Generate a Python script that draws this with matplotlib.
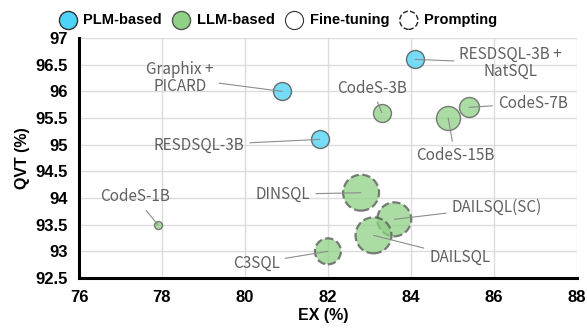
import matplotlib
matplotlib.use("Agg")
from matplotlib import pyplot as plt

# data
names = ["Graphix +\nPICARD", "RESDSQL-3B +\nNatSQL", "RESDSQL-3B", "CodeS-1B", "CodeS-3B",
         "CodeS-7B", "CodeS-15B", "DINSQL", "DAILSQL(SC)", "DAILSQL", "C3SQL"]
ex = [80.9, 84.1, 81.8, 77.9, 83.3, 85.4, 84.9, 82.8, 83.6, 83.1, 82.0]
qvt = [96.0, 96.6, 95.1, 93.5, 95.6, 95.7, 95.5, 94.1, 93.6, 93.3, 93.0]
kind = ["PLM", "PLM", "PLM", "LLM", "LLM", "LLM", "LLM", "LLM", "LLM", "LLM", "LLM"]
method = ["ft", "ft", "ft", "ft", "ft", "ft", "ft", "prompt", "prompt", "prompt", "prompt"]
radius = [9, 9, 9, 4, 9, 10, 12, 18, 17, 18, 13]  # bubble radius in px

# label placement (text centre in data coords)
label_x = [78.43, 86.41, 78.89, 77.35, 83.06, 86.94, 85.06, 80.92, 86.07, 85.18, 80.27]
label_y = [96.25, 96.53, 94.99, 94.02, 96.06, 95.78, 94.80, 94.07, 93.83, 92.89, 92.78]

plt.rcParams['font.family'] = ['Liberation Sans', 'DejaVu Sans']

fig = plt.figure(figsize=(5.87, 3.30), dpi=100)
ax = fig.add_axes([0.1346, 0.1576, 0.848, 0.727])

colors = {"PLM": "#5fd6f7", "LLM": "#8fd185"}

for i in range(len(names)):
    size = (2 * radius[i] * 0.72) ** 2
    ls = "--" if method[i] == "prompt" else "-"
    lw = 1.6 if method[i] == "prompt" else 1.0
    ax.scatter(ex[i], qvt[i], s=size, color=colors[kind[i]], alpha=0.75 if kind[i] == "LLM" else 0.85,
               edgecolors="#555555", linewidths=lw, linestyle=ls, zorder=3)
    ax.annotate(names[i], xy=(ex[i], qvt[i]), xytext=(label_x[i], label_y[i]),
                ha="center", va="center", fontsize=11, color="#606060",
                family=['Noto Sans CJK SC', 'DejaVu Sans'], linespacing=1.0,
                arrowprops=dict(arrowstyle="-", color="#8c8c8c", lw=0.8, shrinkA=2, shrinkB=0),
                zorder=4)

ax.set_xlim(76, 88)
ax.set_ylim(92.5, 97)
ax.set_xticks([76, 78, 80, 82, 84, 86, 88])
ax.set_yticks([92.5, 93, 93.5, 94, 94.5, 95, 95.5, 96, 96.5, 97])
ax.set_yticklabels(["92.5", "93", "93.5", "94", "94.5", "95", "95.5", "96", "96.5", "97"])
ax.grid(True, color="#dcdcdc", lw=1)
ax.set_axisbelow(True)
for s in ["top", "right"]:
    ax.spines[s].set_visible(False)
for s in ["left", "bottom"]:
    ax.spines[s].set_linewidth(2.2)
    ax.spines[s].set_color("black")
ax.tick_params(length=0, labelsize=12)
ax.tick_params(axis="x", pad=9)
ax.tick_params(axis="y", pad=8)
for lab in ax.get_xticklabels() + ax.get_yticklabels():
    lab.set_fontweight("bold")
ax.set_xlabel("EX (%)", fontsize=11.5, fontweight="bold")
ax.xaxis.set_label_coords(0.49, -0.125)
ax.set_ylabel("QVT (%)", fontsize=11.5, fontweight="bold", labelpad=4)

# legend handles: empty scatters so the dashed edge carries over
h1 = ax.scatter([], [], s=170, color="#4fd3f8", edgecolors="#333333", linewidths=1.0)
h2 = ax.scatter([], [], s=170, color="#8fd185", edgecolors="#555555", linewidths=1.0)
h3 = ax.scatter([], [], s=170, color="white", edgecolors="#333333", linewidths=0.8)
h4 = ax.scatter([], [], s=170, color="white", edgecolors="#222222", linewidths=1.0, linestyle="--")
fig.legend([h1, h2, h3, h4], ["PLM-based", "LLM-based", "Fine-tuning", "Prompting"],
           loc="upper center", bbox_to_anchor=(0.472, 1.0), ncol=4, frameon=False,
           handletextpad=0.3, columnspacing=0.6, handlelength=1.5, scatterpoints=1,
           prop=dict(weight="bold", size=10.5))

fig.savefig("out.png", dpi=100)
